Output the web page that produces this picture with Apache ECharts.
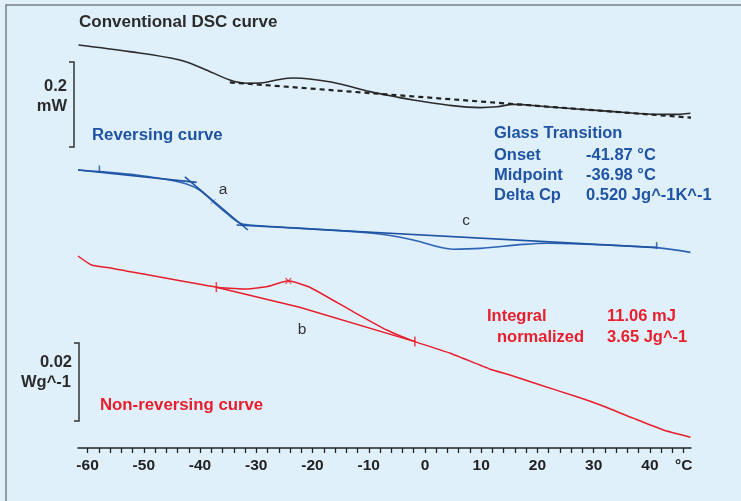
<!DOCTYPE html>
<html>
<head>
<meta charset="utf-8">
<title>DSC curves</title>
<script src="https://cdn.jsdelivr.net/npm/echarts@6.0.0/dist/echarts.min.js"></script>
<style>
  html, body { margin: 0; padding: 0; background: #dff0fa; }
  #myChart { width: 741px; height: 501px; }
</style>
</head>
<body>
<div id="myChart"></div>
<script>
// temperature axis (°C) - ticks every 2, labels every 10
const tickValues = [-60, -58, -56, -54, -52, -50, -48, -46, -44, -42, -40, -38, -36, -34, -32, -30, -28, -26, -24, -22, -20,
  -18, -16, -14, -12, -10, -8, -6, -4, -2, 0, 2, 4, 6, 8, 10, 12, 14, 16, 18, 20, 22, 24, 26, 28, 30, 32, 34, 36, 38, 40, 42, 44, 46];
const labelValues = [-60, -50, -40, -30, -20, -10, 0, 10, 20, 30, 40, 46];
const unitLabel = '°C';

// conventional DSC curve (offset, arbitrary units)
const dscT = [-61.6, -52.5, -43.6, -39.5, -34.7, -31.7, -28.8, -26.4, -23.4, -20.5, -15.7, -9.8, -4.5, -2.1, 3.9, 9.8, 12.8, 15.7, 21.7, 27.6, 33.5, 39.5, 44.2, 47.2];
const dscY = [100.75, 99.1, 97.0, 94.9, 92.0, 91.2, 91.3, 92.0, 92.5, 92.25, 91.2, 89.1, 87.6, 87.0, 85.75, 85.1, 85.3, 85.9, 85.3, 84.7, 84.1, 83.5, 83.4, 83.7];
const dscBaseline = [[-34.7, 91.4], [47.3, 82.6]];

// reversing curve
const revT = [-61.7, -57.9, -51.3, -45.4, -42.4, -40.1, -37.7, -35.3, -32.9, -31.2, -21.7, -8.0, -2.1, 5.0, 9.8, 17.5, 21.7, 27.6, 41.2, 47.2];
const revY = [69.5, 69.1, 68.25, 67.0, 66.0, 64.5, 61.6, 58.7, 56.2, 55.75, 54.9, 53.5, 52.0, 49.7, 49.9, 50.9, 51.2, 51.0, 50.1, 48.9];
const revTangent1 = [[-61.7, 69.5], [-40.6, 66.4]];
const revTangent2 = [[-42.7, 67.8], [-31.5, 54.5]];
const revTangent3 = [[-33.5, 55.75], [41.2, 50.1]];
const revLimits = [[-57.9, 69.75], [41.2, 50.6]];
const revMid = [[-37.7, 61.6]];

// non-reversing curve
const nrT = [-61.7, -59.3, -55.5, -37.1, -32.3, -28.2, -24.3, -20.5, -12.8, -6.8, -1.8, 4.5, 11.6, 15.1, 20.5, 27.0, 31.2, 37.1, 42.4, 47.2];
const nrY = [48, 45.75, 44.9, 40.2, 39.75, 40.3, 41.8, 40.2, 34.1, 29.5, 26.6, 23.7, 19.7, 18.25, 15.75, 12.8, 10.75, 7.4, 4.5, 2.7];
const nrBaseline = [[-37.1, 40.2], [-22.3, 35.2], [-1.8, 26.6]];
const nrLimits = [[-37.1, 40.2], [-1.8, 26.6]];
const nrPeak = [[-24.3, 41.8]];

const BLACK = '#2b2b2b';
const BLUE = '#1f53a3';
const RED = '#e81e2d';
const FONT = '"Liberation Sans", Arial, sans-serif';

function pairs(xs, ys) {
  return xs.map((x, i) => [x, ys[i]]);
}

function txt(text, x, y, color, size, align, weight) {
  return {
    type: 'text',
    silent: true,
    style: {
      text: text,
      x: x,
      y: y,
      fill: color,
      font: (weight || 'bold') + ' ' + (size || 16.5) + 'px ' + FONT,
      textAlign: align || 'left',
      textVerticalAlign: 'middle'
    }
  };
}

function bracket(x, y1, y2) {
  return {
    type: 'polyline',
    silent: true,
    shape: { points: [[x - 5, y1], [x, y1], [x, y2], [x - 5, y2]] },
    style: { stroke: '#333', lineWidth: 1.5, fill: null }
  };
}

function lineSeries(data, color, width, extra) {
  return Object.assign({
    type: 'line',
    data: data,
    symbol: 'none',
    silent: true,
    lineStyle: { color: color, width: width }
  }, extra || {});
}

const cross = 'path://M0,0L10,10M10,0L0,10';

let myChart = echarts.init(document.getElementById('myChart'));
let option = {
  animation: false,
  backgroundColor: '#dff0fa',
  grid: { left: 78, right: 50, top: 0, bottom: 53, containLabel: false, outerBoundsMode: 'none' },
  xAxis: {
    type: 'value',
    min: -61.7,
    max: 47.3,
    axisLine: { lineStyle: { color: '#222', width: 1.5 } },
    axisTick: { customValues: tickValues, length: 5, lineStyle: { color: '#222', width: 1.3 } },
    axisLabel: {
      customValues: labelValues,
      margin: 10,
      color: '#222',
      fontWeight: 'bold',
      fontSize: 15.5,
      fontFamily: FONT,
      formatter: v => (v === 46 ? unitLabel : String(v))
    },
    splitLine: { show: false }
  },
  yAxis: { type: 'value', min: 0, max: 112, show: false },
  series: [
    // conventional
    lineSeries(pairs(dscT, dscY), BLACK, 1.6, { smooth: 0.35 }),
    lineSeries(dscBaseline, '#222', 2.2, { lineStyle: { color: '#222', width: 2.2, type: [5, 4] } }),
    // reversing
    lineSeries(pairs(revT, revY), '#2e63b3', 1.6, { smooth: 0.35 }),
    lineSeries(revTangent1, BLUE, 1.6),
    lineSeries(revTangent2, BLUE, 1.6),
    lineSeries(revTangent3, BLUE, 1.6),
    { type: 'scatter', data: revLimits, symbol: 'rect', symbolSize: [1.6, 7], itemStyle: { color: BLUE }, silent: true },
    { type: 'scatter', data: revMid, symbol: cross, symbolSize: 5, itemStyle: { color: 'none', borderColor: '#4a7cc4', borderWidth: 1 }, silent: true },
    // non-reversing
    lineSeries(pairs(nrT, nrY), RED, 1.5, { smooth: 0.15 }),
    lineSeries(nrBaseline, RED, 1.5),
    { type: 'scatter', data: nrLimits, symbol: 'rect', symbolSize: [1.6, 10], itemStyle: { color: RED }, silent: true },
    { type: 'scatter', data: nrPeak, symbol: cross, symbolSize: 6, itemStyle: { color: 'none', borderColor: RED, borderWidth: 1.2 }, silent: true }
  ],
  graphic: [
    // frame
    {
      type: 'polyline',
      silent: true,
      shape: { points: [[6, 501], [6, 5], [741, 5]] },
      style: { stroke: '#7a7f85', lineWidth: 1.5, fill: null }
    },
    txt('Conventional DSC curve', 79, 22, BLACK, 17),
    txt('Reversing curve', 92, 135, BLUE, 16.8),
    txt('Non-reversing curve', 100, 405, RED, 16.8),

    // scale bars
    bracket(74, 62, 147),
    txt('0.2', 67, 86, BLACK, 16.5, 'right'),
    txt('mW', 67, 106, BLACK, 16.5, 'right'),
    bracket(79, 343, 421),
    txt('0.02', 72, 362, BLACK, 16.5, 'right'),
    txt('Wg^-1', 71, 382, BLACK, 16.5, 'right'),

    // glass transition results
    txt('Glass Transition', 494, 133, BLUE),
    txt('Onset', 494, 155, BLUE),
    txt('-41.87 °C', 586, 155, BLUE),
    txt('Midpoint', 494, 175, BLUE),
    txt('-36.98 °C', 586, 175, BLUE),
    txt('Delta Cp', 494, 195, BLUE),
    txt('0.520 Jg^-1K^-1', 586, 195, BLUE),

    // integral results
    txt('Integral', 487, 316, RED),
    txt('11.06 mJ', 607, 316, RED),
    txt('normalized', 497, 337, RED),
    txt('3.65 Jg^-1', 607, 337, RED),

    // curve markers
    txt('a', 223, 190, '#333', 15.5, 'center', 'normal'),
    txt('b', 302, 330, '#333', 15.5, 'center', 'normal'),
    txt('c', 466, 221, '#333', 15.5, 'center', 'normal')
  ]
};
myChart.setOption(option);
</script>
</body>
</html>
